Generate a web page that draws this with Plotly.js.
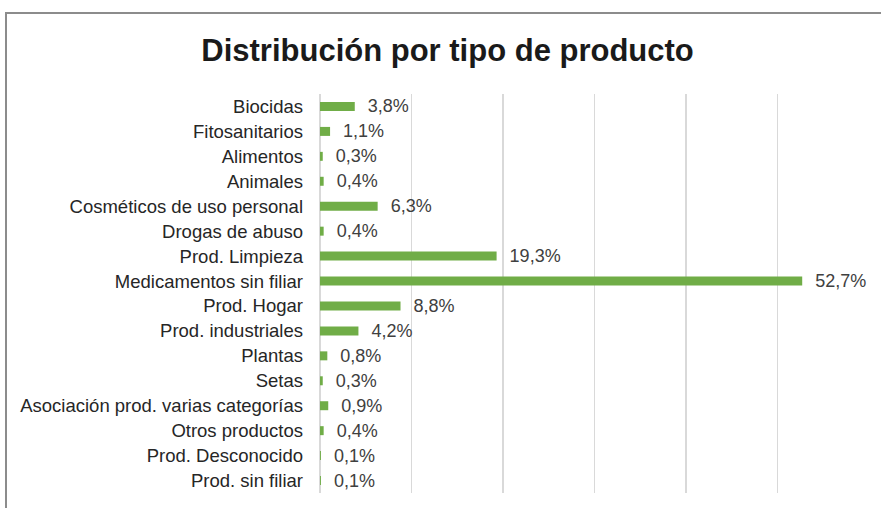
<!DOCTYPE html>
<html>
<head>
<meta charset="utf-8">
<script src="https://cdn.plot.ly/plotly-3.0.1.min.js"></script>
<style>
  html, body { margin: 0; padding: 0; background: #ffffff; }
  #wrap { position: relative; width: 881px; height: 508px; overflow: hidden; }
  #chart { position: absolute; left: 0; top: 0; width: 881px; height: 508px; }
  #frame { position: absolute; left: 5px; top: 12px; width: 900px; height: 600px;
           border-top: 2px solid #8c8c8c; border-left: 2px solid #8c8c8c; pointer-events: none; }
</style>
</head>
<body>
<div id="wrap">
  <div id="chart"></div>
  <div id="frame"></div>
</div>
<script>
const categories = [
  "Biocidas",
  "Fitosanitarios",
  "Alimentos",
  "Animales",
  "Cosméticos de uso personal",
  "Drogas de abuso",
  "Prod. Limpieza",
  "Medicamentos sin filiar",
  "Prod. Hogar",
  "Prod. industriales",
  "Plantas",
  "Setas",
  "Asociación prod. varias categorías",
  "Otros productos",
  "Prod. Desconocido",
  "Prod. sin filiar"
];
const percentages = [3.8, 1.1, 0.3, 0.4, 6.3, 0.4, 19.3, 52.7, 8.8, 4.2, 0.8, 0.3, 0.9, 0.4, 0.1, 0.1];
const titleText = "Distribución por tipo de producto";

const trace = {
  type: "bar",
  orientation: "h",
  y: categories,
  x: percentages,
  marker: { color: "#70AD47" },
  texttemplate: "\u00a0\u00a0%{x:.1f}%",
  textposition: "outside",
  constraintext: "none",
  cliponaxis: false,
  textfont: { family: "Liberation Sans, Arial, sans-serif", size: 18, color: "#404040" },
  hoverinfo: "none"
};

const layout = {
  width: 881,
  height: 508,
  margin: { l: 320, r: 12, t: 94, b: 15 },
  paper_bgcolor: "#ffffff",
  plot_bgcolor: "#ffffff",
  separators: ",.",
  bargap: 0.64,
  showlegend: false,
  title: {
    text: titleText,
    font: { family: "Liberation Sans, Arial, sans-serif", size: 31, color: "#1a1a1a", weight: "bold" },
    x: 0.508,
    xanchor: "center",
    y: 0.901,
    yanchor: "middle"
  },
  xaxis: {
    range: [0, 60],
    dtick: 10,
    showticklabels: false,
    showgrid: true,
    gridcolor: "#d9d9d9",
    gridwidth: 1.5,
    zeroline: true,
    zerolinecolor: "#d9d9d9",
    zerolinewidth: 1.5,
    showline: false,
    ticks: ""
  },
  yaxis: {
    autorange: "reversed",
    type: "category",
    showgrid: false,
    zeroline: false,
    showline: false,
    ticks: "",
    ticklabelstandoff: 16,
    tickfont: { family: "Liberation Sans, Arial, sans-serif", size: 18.5, color: "#262626" }
  }
};

Plotly.newPlot("chart", [trace], layout, { displayModeBar: false, staticPlot: true });
</script>
</body>
</html>
